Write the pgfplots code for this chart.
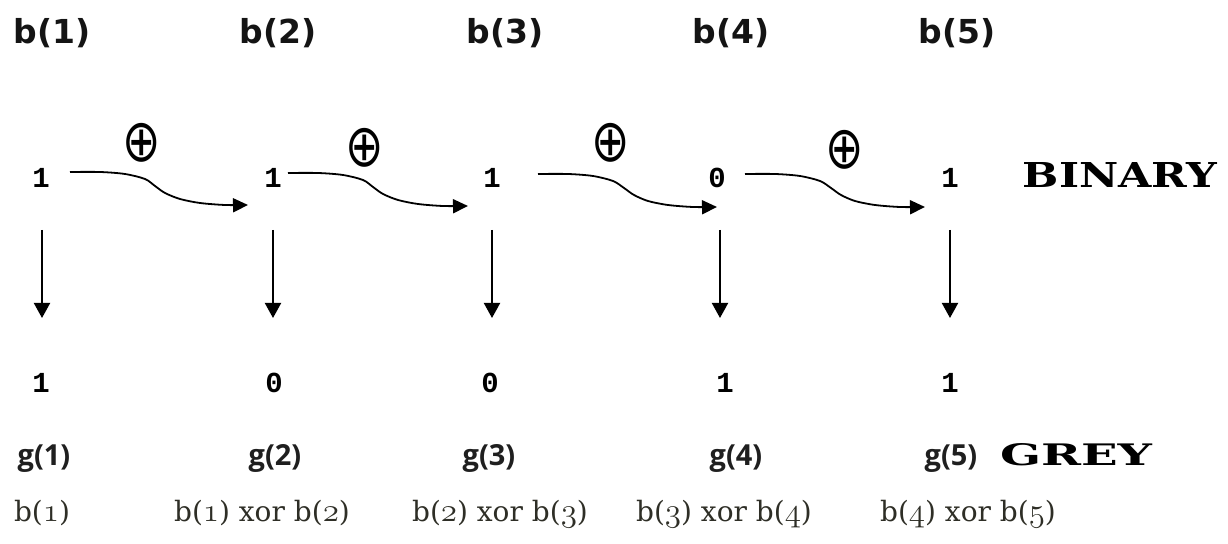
\documentclass[border=0pt]{standalone}
\usepackage{pgfplots}
\pgfplotsset{compat=1.18}
\usepackage{fontspec}
\usetikzlibrary{arrows.meta}
\newfontfamily\topfont{DejaVu Sans}
\newfontfamily\digfont{Liberation Mono}
\newfontfamily\capfont{DejaVu Serif}
\newfontfamily\btfont{DejaVu Serif}
\newfontfamily\gfont{Open Sans}
\newcommand\os[1]{\scalebox{1.15}{\ensuremath{\mathchar"013#1}}}
\definecolor{btxt}{HTML}{2E2E26}
\begin{document}
\begin{tikzpicture}
\begin{axis}[
  width=614pt, height=272pt, scale only axis,
  xmin=0, xmax=1228, ymin=0, ymax=544, y dir=reverse,
  hide axis, clip=false,
]
\addplot[draw=none] coordinates {(0,0) (1228,544)};
% top labels
\foreach \xx/\t in {52/1,278/2,505/3,731/4,957/5}{
  \edef\tmp{\noexpand\node[anchor=base, text=black!92, font=\noexpand\topfont\noexpand\bfseries\noexpand\fontsize{16.5}{18}\noexpand\selectfont] at (axis cs:\xx,44) {b(\t)};}
  \tmp
}
% plus symbols
\foreach \xx/\yy in {142/143,365/148,611/143,845/150}{
  \edef\tmp{\noexpand\node[inner sep=0pt, font=\noexpand\topfont\noexpand\fontsize{27}{28}\noexpand\selectfont] at (axis cs:\xx,\yy) {\noexpand\scalebox{0.85}[1.1]{⊕}};}
  \tmp
}
% binary digits
\foreach \xx/\t in {41/1,273/1,492/1,717/0,950/1}{
  \edef\tmp{\noexpand\node[anchor=base, font=\noexpand\digfont\noexpand\bfseries\noexpand\fontsize{14.5}{16}\noexpand\selectfont] at (axis cs:\xx,188) {\t};}
  \tmp
}
\node[anchor=base, font=\capfont\bfseries] at (axis cs:1120,188) {\resizebox{97pt}{12.5pt}{BINARY}};
% curved arrows
\addplot[smooth, line width=0.9pt, -{Triangle[length=7.5pt,width=7pt]}] coordinates {
 (70,172) (100,172) (125,174) (145,179) (155,186) (165,193) (180,199) (200,203) (225,205) (248,205)};
\addplot[smooth, line width=0.9pt, -{Triangle[length=7.5pt,width=7pt]}] coordinates {
 (288,173) (318,173) (343,175) (363,180) (373,187) (383,194) (398,200) (418,204) (443,206) (468,206)};
\addplot[smooth, line width=0.9pt, -{Triangle[length=7.5pt,width=7pt]}] coordinates {
 (538,174) (568,174) (593,176) (613,181) (624,188) (634,195) (648,201) (668,205) (693,207) (717,207)};
\addplot[smooth, line width=0.9pt, -{Triangle[length=7.5pt,width=7pt]}] coordinates {
 (745,174) (775,174) (800,176) (820,181) (831,188) (841,195) (855,201) (875,205) (900,207) (925,207)};
% down arrows
\addplot[line width=1pt, -{Triangle[length=7.5pt,width=8pt]}] coordinates {(42,230) (42,318)};
\addplot[line width=1pt, -{Triangle[length=7.5pt,width=8pt]}] coordinates {(273,230) (273,318)};
\addplot[line width=1pt, -{Triangle[length=7.5pt,width=8pt]}] coordinates {(492,230) (492,318)};
\addplot[line width=1pt, -{Triangle[length=7.5pt,width=8pt]}] coordinates {(720,230) (720,318)};
\addplot[line width=1pt, -{Triangle[length=7.5pt,width=8pt]}] coordinates {(950,230) (950,318)};
% grey digits
\foreach \xx/\t in {41/1,274/0,490/0,725/1,950/1}{
  \edef\tmp{\noexpand\node[anchor=base, font=\noexpand\digfont\noexpand\bfseries\noexpand\fontsize{14.5}{16}\noexpand\selectfont] at (axis cs:\xx,393) {\t};}
  \tmp
}
% g labels
\foreach \xx/\t in {44/1,275/2,489/3,736/4,951/5}{
  \edef\tmp{\noexpand\node[anchor=base, text=black!88, font=\noexpand\gfont\noexpand\bfseries\noexpand\fontsize{14.5}{16}\noexpand\selectfont] at (axis cs:\xx,466) {g(\t)};}
  \tmp
}
\node[anchor=base, font=\capfont\bfseries] at (axis cs:1076,466) {\resizebox{76pt}{11pt}{GREY}};
% bottom formulas
\begin{scope}[every node/.style={anchor=base, text=btxt, font=\btfont\fontsize{14}{16}\selectfont}]
\node at (axis cs:42,522) {b(\os1)};
\node at (axis cs:262,522) {b(\os1) xor b(\os2)};
\node at (axis cs:500,522) {b(\os2) xor b(\os3)};
\node at (axis cs:724,522) {b(\os3) xor b(\os4)};
\node at (axis cs:968,522) {b(\os4) xor b(\os5)};
\end{scope}
\end{axis}
\end{tikzpicture}
\end{document}
